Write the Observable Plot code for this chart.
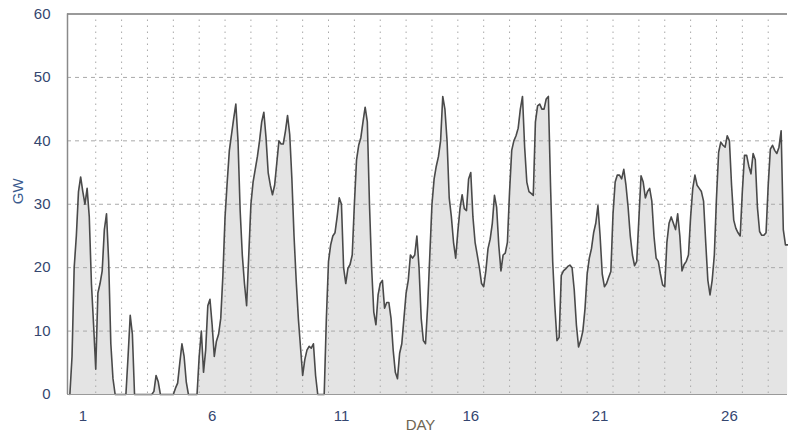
<!DOCTYPE html>
<html><head><meta charset="utf-8">
<script src="https://cdn.jsdelivr.net/npm/d3@7"></script>
<script src="https://cdn.jsdelivr.net/npm/@observablehq/plot@0.6"></script>
<style>body{margin:0;background:#fff;} #chart svg{display:block;}</style>
</head><body><div id="chart"></div>
<script>
// Hourly output read every 2 hours, starting at 00:00 of day 1 (GW)
const stepHours = 2;
const week1 = [
  0, 6, 20, 25, 32, 34.3, 32, 30, 32.5, 28, 17.5, 11,
  4, 16, 17.5, 19.5, 26, 28.5, 21, 8, 2.5, 0, 0, 0,
  0, 0, 0, 6, 12.5, 9.5, 0, 0, 0, 0, 0, 0,
  0, 0, 0, 0.5, 3, 2, 0, 0, 0, 0, 0, 0,
  0, 1, 1.8, 5, 8, 6, 2, 0, 0, 0, 0, 0,
  6, 10, 3.5, 7, 14, 15, 11, 6, 8.4, 9.5, 12, 18.8,
  28, 33.5, 38.5, 41, 43.5, 45.8, 40, 29, 22, 17.5, 14, 22
];
const week2 = [
  30, 33.5, 35.5, 37.5, 40, 43, 44.5, 40.5, 35, 33, 31.5, 33,
  36.5, 40, 39.5, 39.5, 41.5, 44, 41, 34, 25, 18, 12, 7.5,
  3, 5.5, 7, 7.6, 7.3, 8, 3, 0, 0, 0, 0, 12,
  21, 23.6, 25, 25.5, 28, 31, 30, 20, 17.5, 19.9, 20.5, 22,
  30, 37, 39.3, 40.5, 43, 45.3, 43, 30, 20, 13, 11, 15.7,
  17.5, 18, 13.6, 14.5, 14.5, 12, 7, 3.5, 2.5, 6.5, 8, 12,
  16, 18, 22, 21.5, 22, 25, 20, 12, 8.5, 8, 14, 22
];
const week3 = [
  30, 34, 36, 37.5, 40, 47, 45, 40, 31, 28, 24, 21.5,
  25.7, 29.3, 31.5, 29.3, 29, 34, 35, 28, 24, 22, 20, 17.5,
  17, 19.5, 23, 24.5, 27, 31.4, 29.5, 23.5, 19.5, 22, 22.3, 24,
  32, 38.5, 40, 40.8, 42, 45, 47, 39, 33.5, 32, 31.7, 31.4,
  43, 45.5, 45.8, 45, 45, 46.6, 47, 33, 21, 14, 8.5, 9,
  18.8, 19.5, 19.8, 20.2, 20.4, 20, 16.5, 11, 7.5, 8.5, 10, 13.5,
  19, 21.5, 23, 25.5, 27, 29.8, 25, 19, 17, 17.5, 18.5, 19.4
];
const week4 = [
  28.5, 33.5, 34.6, 34.6, 34, 35.5, 33, 29.5, 25, 22, 20.3, 21,
  27.7, 34.5, 33.5, 31, 32, 32.5, 30.5, 25, 21.5, 21, 19, 17.3,
  17, 24, 27, 28, 27, 26, 28.5, 25, 19.5, 20.5, 21, 22,
  28, 32.5, 34.6, 33, 32.5, 32, 30.5, 24, 18, 15.7, 18, 22,
  31, 38.2, 39.8, 39.3, 39, 40.8, 40, 33, 27.5, 26.2, 25.5, 25,
  32, 37.7, 37.7, 36, 34.8, 38, 37, 29.5, 25.7, 25.1, 25.1, 25.5,
  33, 38.7, 39.3, 38.5, 38, 39, 41.6, 26, 23.6, 23.6
];
const dayLabels = [1, 6, 11, 16, 21, 26];
const yTicks = [0, 10, 20, 30, 40, 50, 60];
const dayStarts = d3.range(2, 29); // grid lines at the start of days 2..28

const gw = [...week1, ...week2, ...week3, ...week4];
const data = gw.map((v, i) => ({hour: i * stepHours, gw: v}));
const xTicks = dayLabels.map(d => ({hour: (d - 1) * 24 + 12, label: String(d)}));
const labelOf = new Map(xTicks.map(t => [t.hour, t.label]));
const xMin = -2.2, xMax = 665.9;

const chart = Plot.plot({
  width: 788, height: 440,
  marginLeft: 67, marginRight: 1, marginTop: 13.5, marginBottom: 46,
  x: {domain: [xMin, xMax]},
  y: {domain: [0, 60]},
  style: {fontFamily: "Arial, 'Liberation Sans', sans-serif", fontSize: "15px", color: "#34466f", background: "#fff"},
  marks: [
    Plot.areaY(data, {x: "hour", y: "gw", curve: "linear", fill: "#e4e4e4"}),
    Plot.ruleY([10, 20, 30, 40, 50], {stroke: "#a9a9a9", strokeDasharray: "4,4"}),
    Plot.ruleX(dayStarts.map(d => (d - 1) * 24), {stroke: "#a9a9a9", strokeDasharray: "1.5,4.5"}),
    Plot.lineY(data, {x: "hour", y: "gw", curve: "linear", stroke: "#4a4a4a", strokeWidth: 1.6}),
    Plot.ruleY([60], {stroke: "#9a9a9a", strokeWidth: 2}),
    Plot.ruleY([0], {stroke: "#9a9a9a", strokeWidth: 1.2}),
    Plot.ruleX([xMin], {stroke: "#8a8a8a", strokeWidth: 1.5}),
    Plot.axisY(yTicks, {tickSize: 0, tickPadding: 17, label: null}),
    Plot.axisX(xTicks.map(t => t.hour), {tickSize: 0, tickPadding: 16, label: null, tickFormat: h => labelOf.get(h)}),
    Plot.text(["GW"], {frameAnchor: "left", dx: -49, rotate: -90, fill: "#3b5b8e", fontSize: 15}),
    Plot.text(["DAY"], {frameAnchor: "bottom", dx: -7, dy: 35, fill: "#6e6552", fontSize: 15})
  ]
});
document.getElementById("chart").append(chart);
</script>
</body></html>
